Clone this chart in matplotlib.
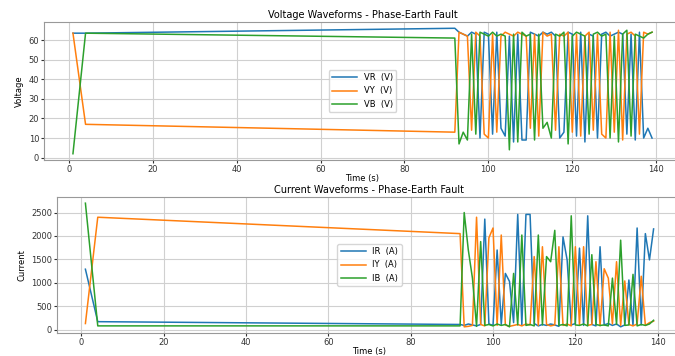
import matplotlib
matplotlib.use("Agg")
import matplotlib.pyplot as plt

# time stamps (s)
t = [1, 4, 92] + list(range(93, 140))

# phase voltages (V)
VR = [63.5, 63.5, 66,
      64, 63, 62, 64, 63, 10, 64, 63, 12, 64, 15, 11, 62, 8, 63, 9, 9, 64, 63, 62,
      64, 63, 64, 62, 10, 13, 64, 63, 11, 64, 8, 63, 62, 10, 63, 64, 62, 63, 64, 63,
      12, 63, 9, 64, 10, 15, 10]
VY = [63.5, 17, 13,
      64, 63, 62, 14, 64, 62, 12, 10, 63, 13, 62, 64, 63, 62, 64, 63, 62, 15, 63, 11,
      64, 62, 63, 14, 63, 62, 64, 13, 63, 11, 62, 64, 14, 63, 12, 10, 64, 13, 65, 9,
      63, 64, 62, 12, 64, 63, 64]
VB = [2, 63.5, 61,
      7, 13, 9, 63, 12, 64, 63, 62, 64, 62, 63, 62, 4, 63, 8, 64, 62, 63, 9, 63,
      15, 18, 10, 63, 62, 64, 7, 62, 64, 63, 62, 12, 63, 64, 62, 63, 10, 62, 8, 63,
      65, 11, 63, 62, 61, 63, 64]

# phase currents (A)
IR = [1290, 170, 110,
      90, 120, 100, 80, 110, 2360, 120, 90, 1700, 110, 1200, 1030, 150, 2460, 100,
      2460, 2460, 130, 80, 110, 90, 120, 100, 70, 1980, 1490, 100, 130, 1740, 90,
      2430, 110, 80, 1770, 100, 130, 90, 120, 60, 100, 1060, 90, 2170, 100, 2050,
      1490, 2150]
IY = [130, 2400, 2050,
      60, 70, 90, 2400, 110, 80, 1960, 2170, 90, 2020, 100, 70, 90, 110, 80, 120,
      100, 1560, 90, 1770, 110, 80, 100, 1770, 90, 120, 80, 1770, 100, 1770, 90,
      110, 1450, 80, 1300, 1100, 120, 1450, 90, 1040, 110, 80, 120, 1140, 90, 150,
      180]
IB = [2700, 80, 80,
      2500, 1700, 1100, 70, 1880, 90, 110, 80, 120, 90, 110, 60, 1200, 100, 2020,
      90, 110, 80, 2020, 100, 1560, 1450, 2120, 90, 110, 80, 2430, 100, 90, 120, 80,
      1600, 110, 90, 100, 80, 1100, 110, 1910, 90, 100, 1180, 80, 110, 90, 120, 200]

plt.rcParams['font.size'] = 6
fig = plt.figure(figsize=(6.75, 3.56), dpi=100)
W, H = 675, 356

def add_ax(left, top, right, bottom):
    return fig.add_axes([left / W, 1 - bottom / H, (right - left) / W, (bottom - top) / H])

ax1 = add_ax(44, 22, 681, 160)
ax2 = add_ax(57, 197, 682, 333)

for ax, series, labels, title, ylab in [
        (ax1, [VR, VY, VB], ['VR  (V)', 'VY  (V)', 'VB  (V)'],
         'Voltage Waveforms - Phase-Earth Fault', 'Voltage'),
        (ax2, [IR, IY, IB], ['IR  (A)', 'IY  (A)', 'IB  (A)'],
         'Current Waveforms - Phase-Earth Fault', 'Current')]:
    for y, lab in zip(series, labels):
        ax.plot(t, y, label=lab, lw=1.1)
    ax.set_title(title, fontsize=7, pad=3)
    ax.set_xlabel('Time (s)', fontsize=6, labelpad=0)
    ax.set_ylabel(ylab, fontsize=6, family='Liberation Sans Narrow', labelpad=3)
    ax.grid(True, color='#d0d0d0', lw=0.8)
    ax.tick_params(labelsize=6, length=2, pad=1.5, colors='#333333')
    for s in ax.spines.values():
        s.set_color('#999999')
    ax.legend(loc='center', fontsize=6, handlelength=3, framealpha=0.8)

ax1.set_yticks([0, 10, 20, 30, 40, 50, 60])
ax2.set_yticks([0, 500, 1000, 1500, 2000, 2500])

fig.savefig('out.png', dpi=100)
